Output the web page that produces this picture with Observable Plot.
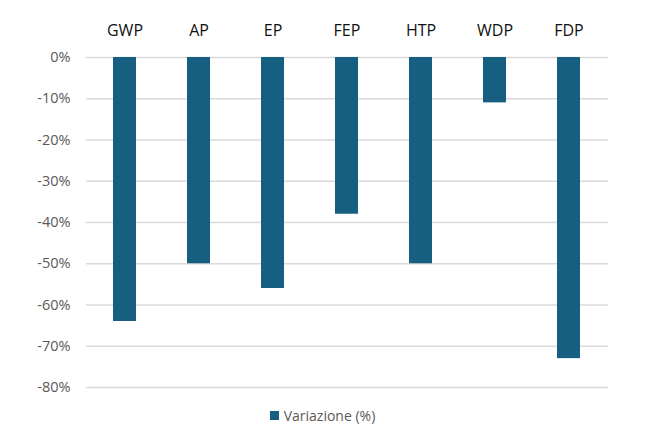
<!DOCTYPE html>
<html>
<head>
<meta charset="utf-8">
<script src="https://cdn.jsdelivr.net/npm/d3@7"></script>
<script src="https://cdn.jsdelivr.net/npm/@observablehq/plot@0.6"></script>
<style>
  body { margin: 0; background: #fff; font-family: "Open Sans", sans-serif; }
  #legend { display: flex; justify-content: center; align-items: center; margin-left: -12px; margin-top: 6px; font-size: 14px; color: #595959; }
  #legend .sw { width: 9px; height: 9px; background: #175f80; margin-right: 5px; }
</style>
</head>
<body>
<div id="chart"></div>
<div id="legend"><span class="sw"></span><span>Variazione (%)</span></div>
<script>
const categories = ["GWP", "AP", "EP", "FEP", "HTP", "WDP", "FDP"];
const values = [-64, -50, -56, -38, -50, -11, -73];
const yTicks = [0, -10, -20, -30, -40, -50, -60, -70, -80];
const seriesName = "Variazione (%)";

const data = categories.map((c, i) => ({ category: c, value: values[i] }));

const chart = Plot.plot({
  width: 657,
  height: 400,
  marginTop: 57,
  marginBottom: 13,
  marginLeft: 86,
  marginRight: 49,
  style: { fontFamily: "Open Sans, sans-serif", fontSize: "14px", background: "#fff" },
  x: { domain: categories, paddingInner: 0.685, paddingOuter: 0.3425, axis: null },
  y: { domain: [-80, 0], axis: null },
  marks: [
    Plot.gridY(yTicks, { stroke: "#d9d9d9", strokeOpacity: 1, strokeWidth: 1.3 }),
    Plot.barY(data, { x: "category", y: "value", fill: "#175f80" }),
    Plot.axisX({ anchor: "top", label: null, tickSize: 0, tickPadding: 22, fontSize: 16, fill: "#111" }),
    Plot.axisY(yTicks, { anchor: "left", label: null, tickSize: 0, tickPadding: 16, tickFormat: d => `${d}%`, fill: "#595959", fontSize: 14.5 })
  ]
});
document.getElementById("chart").append(chart);
</script>
</body>
</html>
